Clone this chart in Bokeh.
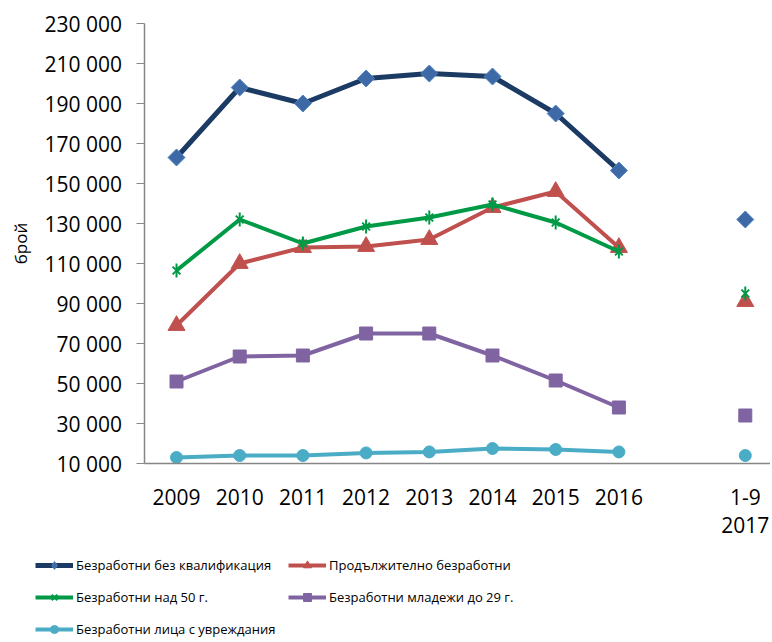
import numpy as np
from bokeh.plotting import figure
from bokeh.models import FixedTicker, Legend, LegendItem, Range1d
from bokeh.embed import file_html
from bokeh.resources import INLINE

categories = ["2009", "2010", "2011", "2012", "2013", "2014", "2015", "2016", "", "1-9\n2017"]
nan = float("nan")
no_qualification = [163000, 198000, 190000, 202500, 205000, 203500, 185000, 156500, nan, 132000]
long_term = [79000, 110000, 118000, 118500, 122000, 138000, 146000, 118000, nan, 91000]
over_50 = [106500, 132000, 120000, 128500, 133000, 139500, 130500, 116000, nan, 95000]
youth_29 = [51000, 63500, 64000, 75000, 75000, 64000, 51500, 38000, nan, 34000]
disabled = [13000, 14000, 14000, 15300, 15800, 17500, 17000, 15800, nan, 14000]

names = ["Безработни без квалификация", "Продължително безработни",
         "Безработни над 50 г.", "Безработни младежи до 29 г.",
         "Безработни лица с увреждания"]
y_min, y_max = 10000, 230000
y_ticks = list(range(y_min, y_max + 1, 20000))
y_tick_labels = ["10 000", "30 000", "50 000", "70 000", "90 000", "110 000",
                 "130 000", "150 000", "170 000", "190 000", "210 000", "230 000"]
y_title = "брой"

x = list(range(len(categories)))

FONT = "Open Sans"
AXIS_COLOR = "#868686"

# One frame covers the whole figure; the axes are pinned inside it so the
# legend (which sits left of the y axis in the original) is not clipped.
p = figure(width=770, height=640, output_backend="svg", toolbar_location=None,
           x_range=Range1d(-2.785, 9.399), y_range=Range1d(-78500, 241500),
           min_border_left=0, min_border_right=0, min_border_top=0,
           min_border_bottom=0)
p.outline_line_color = None
p.xgrid.visible = False
p.ygrid.visible = False
p.background_fill_color = "white"
p.border_fill_color = "white"

# y axis
p.yaxis.fixed_location = -0.5
p.yaxis.bounds = (y_min, y_max)
p.yaxis.ticker = FixedTicker(ticks=y_ticks)
p.yaxis.major_label_overrides = {t: l for t, l in zip(y_ticks, y_tick_labels)}
p.yaxis.major_tick_out = 8
p.yaxis.major_tick_in = 0
p.yaxis.minor_tick_out = 0
p.yaxis.minor_tick_in = 0
p.yaxis.major_label_standoff = 15
p.yaxis.axis_line_color = AXIS_COLOR
p.yaxis.major_tick_line_color = AXIS_COLOR
p.yaxis.axis_line_width = 1.5
p.yaxis.major_label_text_font = FONT
p.yaxis.major_label_text_font_size = "21px"
p.yaxis.major_label_text_color = "black"
p.yaxis.axis_label = y_title
p.yaxis.axis_label_text_font = FONT
p.yaxis.axis_label_text_font_size = "17px"
p.yaxis.axis_label_text_font_style = "normal"
p.yaxis.axis_label_text_color = "black"
p.yaxis.axis_label_standoff = 9

# x axis
x_tick_pos = [i for i, c in enumerate(categories) if c != ""]
p.xaxis.fixed_location = y_min
p.xaxis.bounds = (-0.5, 9.399)
p.xaxis.ticker = FixedTicker(ticks=x_tick_pos)
p.xaxis.major_label_overrides = {i: categories[i] for i in x_tick_pos}
p.xaxis.major_tick_out = 0
p.xaxis.major_tick_in = 0
p.xaxis.minor_tick_out = 0
p.xaxis.minor_tick_in = 0
p.xaxis.major_label_standoff = 19
p.xaxis.axis_line_color = AXIS_COLOR
p.xaxis.axis_line_width = 1.5
p.xaxis.major_label_text_font = FONT
p.xaxis.major_label_text_font_size = "21px"
p.xaxis.major_label_text_color = "black"
p.xaxis.major_label_text_line_height = 1.0

items = []

# 1. no qualification: navy line, blue diamonds
l1 = p.line(x, no_qualification, line_color="#1B3A64", line_width=5)
m1 = p.scatter(x, no_qualification, marker="square", angle=np.pi / 4, size=12,
               fill_color="#3D6AA6", line_color="#4F81BD", line_width=1)
# diamond used only for the legend swatch (size 0 on the chart itself)
m1_key = p.scatter(x, no_qualification, marker="diamond", size=0,
                   fill_color="#3D6AA6", line_color="#4F81BD", line_width=1)
items.append(LegendItem(label=names[0], renderers=[l1, m1_key]))

# 2. long term: red triangles
l2 = p.line(x, long_term, line_color="#C0504D", line_width=4)
m2 = p.scatter(x, long_term, marker="triangle", size=17,
               fill_color="#C0504D", line_color="#C0504D")
items.append(LegendItem(label=names[1], renderers=[l2, m2]))

# 3. over 50: green star
l3 = p.line(x, over_50, line_color="#009A46", line_width=4)
m3a = p.scatter(x, over_50, marker="x", size=11, line_color="#009A46", line_width=2)
m3b = p.scatter(x, over_50, marker="dash", angle=np.pi / 2, size=14,
                line_color="#009A46", line_width=2)
items.append(LegendItem(label=names[2], renderers=[l3, m3a, m3b]))

# 4. youth: purple squares
l4 = p.line(x, youth_29, line_color="#8064A2", line_width=4)
m4 = p.scatter(x, youth_29, marker="square", size=13,
               fill_color="#8064A2", line_color="#8064A2")
items.append(LegendItem(label=names[3], renderers=[l4, m4]))

# 5. disabled: cyan circles
l5 = p.line(x, disabled, line_color="#4BACC6", line_width=4)
m5 = p.scatter(x, disabled, marker="circle", size=12,
               fill_color="#4BACC6", line_color="#4BACC6")
items.append(LegendItem(label=names[4], renderers=[l5, m5]))

legend = Legend(items=items, location=(35, 1), orientation="horizontal", ncols=2,
                glyph_width=38, glyph_height=20, label_height=20, label_width=200,
                label_standoff=3, spacing=12, padding=0, margin=0,
                border_line_color=None, background_fill_alpha=0,
                label_text_font=FONT, label_text_font_size="13px",
                label_text_color="black")
p.add_layout(legend, "center")

open("out.html", "w").write(file_html(p, INLINE))
